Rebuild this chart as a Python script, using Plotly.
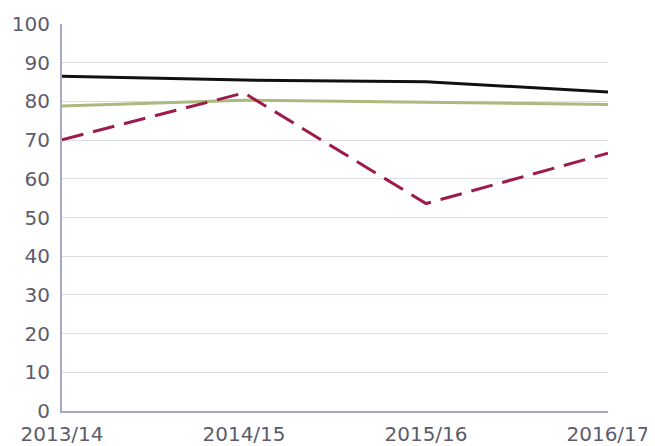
import plotly.graph_objects as go

years = ["2013/14", "2014/15", "2015/16", "2016/17"]
series_black = [86.5, 85.5, 85.1, 82.4]
series_green = [78.8, 80.3, 79.8, 79.2]
series_maroon = [70.1, 82.2, 53.6, 66.6]
y_ticks = list(range(0, 101, 10))

fig = go.Figure()
fig.add_trace(go.Scatter(x=years, y=series_green, mode="lines",
                         line=dict(color="#abb87e", width=3)))
fig.add_trace(go.Scatter(x=years, y=series_maroon, mode="lines",
                         line=dict(color="#9c1a4c", width=3, dash="22px,10px")))
fig.add_trace(go.Scatter(x=years, y=series_black, mode="lines",
                         line=dict(color="#111111", width=3)))

fig.update_layout(
    width=647, height=438,
    margin=dict(l=54, r=47, t=16, b=35, autoexpand=False),
    paper_bgcolor="white", plot_bgcolor="white",
    showlegend=False,
    font=dict(family="DejaVu Sans", size=20, color="#5c5c6c"),
)
fig.update_xaxes(type="category", range=[0, 3], showgrid=False,
                 showline=True, linecolor="#a8a8c4", linewidth=2,
                 ticks="", automargin=False, ticklabelstandoff=4, zeroline=False)
fig.update_yaxes(range=[0, 100], tickvals=y_ticks, showgrid=True,
                 gridcolor="#dcdce6", gridwidth=1, automargin=False,
                 showline=True, linecolor="#a8a8c4", linewidth=2,
                 ticks="", ticklabelstandoff=6, zeroline=False)
fig.write_html("out.html")
